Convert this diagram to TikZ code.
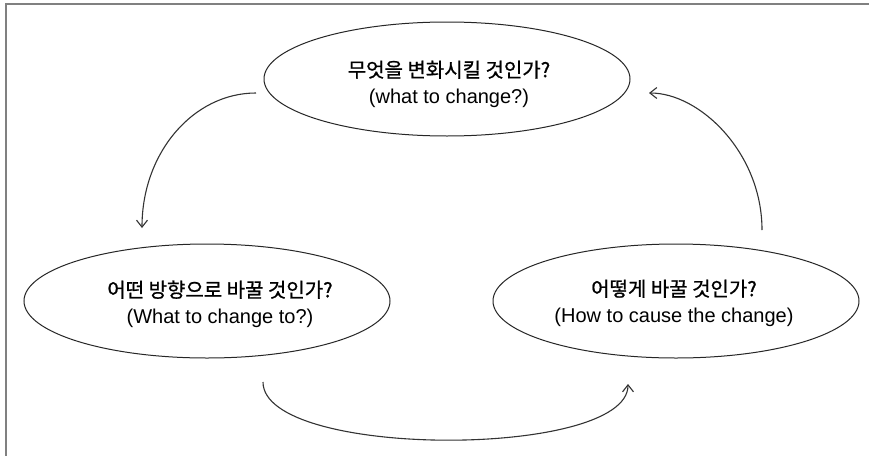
\documentclass[tikz,border=0pt]{standalone}
\usepackage{fontspec}
\setmainfont{Liberation Sans}
\newfontfamily\kr{Noto Sans CJK KR}[FakeBold=0.9]
\usetikzlibrary{shapes.geometric,arrows.meta}

\tikzset{
  bubble/.style={ellipse, draw=black!85, line width=1pt, inner sep=0pt,
                 minimum width=366pt, minimum height=114pt},
  caption/.style={align=center, inner sep=0pt,
                  font=\fontsize{20}{26}\selectfont},
  flow/.style={draw=black!80, line width=1.1pt,
               -{Straight Barb[length=7pt,width=11pt,line width=1.1pt]}},
  frameline/.style={draw=black!50, line width=1.6pt}
}
\newcommand{\hangul}[1]{{\kr\fontsize{20}{26}\selectfont #1}}

\begin{document}
\begin{tikzpicture}[x=1pt,y=-1pt]
  \useasboundingbox (0,0) rectangle (869,455);
  \fill[white] (0,0) rectangle (869,455);

  % open frame: left and top edges only
  \coordinate (fbl) at (6,456);
  \coordinate (ftl) at (6,4);
  \coordinate (ftr) at (870,4);
  \draw[frameline] (fbl) -- (ftl) -- (ftr);

  % the three questions
  \node[bubble] (what) at (447,79) {};
  \node[bubble] (towhat) at (207,301) {};
  \node[bubble] (how) at (676,301) {};

  \node[caption] (whatT) at (449,84)
    {\hangul{무엇을 변화시킬 것인가?}\\(what to change?)};
  \node[caption] (towhatT) at (220,304)
    {\hangul{어떤 방향으로 바꿀 것인가?}\\(What to change to?)};
  \node[caption] (howT) at (674,303)
    {\hangul{어떻게 바꿀 것인가?}\\(How to cause the change)};

  % cycle arrows
  \coordinate (a1s) at (256,93);
  \coordinate (a1e) at (142,228);
  \coordinate (a2s) at (263,382);
  \coordinate (a2e) at (628,384);
  \coordinate (a3s) at (762,230);
  \coordinate (a3e) at (649,93);

  \draw[flow] (a1s) .. controls (193,93) and (142,153) .. (a1e);
  \draw[flow] (a2s) .. controls (263,459) and (628,459) .. (a2e);
  \draw[flow] (a3s) .. controls (762,153) and (700,93) .. (a3e);
\end{tikzpicture}
\end{document}
